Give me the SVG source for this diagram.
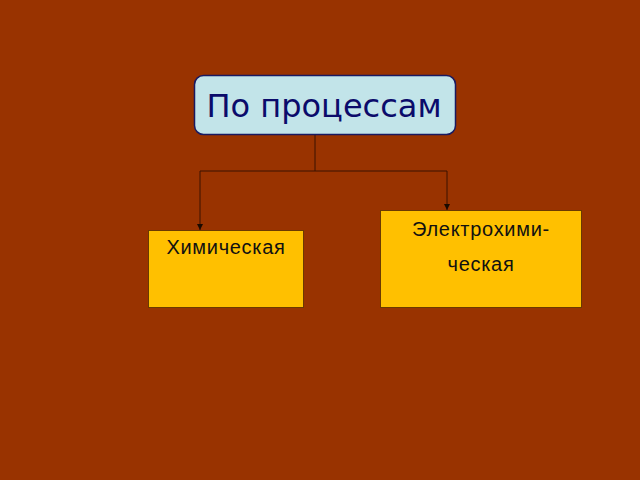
<svg xmlns="http://www.w3.org/2000/svg" width="640" height="480" viewBox="0 0 640 480">
<defs>
<style>
.box{fill:#FFC000;stroke:#6B3A00;stroke-width:1}
.lbl{font-family:"Liberation Sans",Arial,sans-serif;font-size:20px;letter-spacing:0.7px;fill:#111;text-anchor:middle}
.con{fill:none;stroke:#3a1200;stroke-width:1}
</style>
<marker id="ah" viewBox="0 0 6 6" refX="6" refY="3" markerWidth="6" markerHeight="6" orient="auto" markerUnits="userSpaceOnUse">
<path d="M0,0 L6,3 L0,6 Z" fill="#1a0a00"/>
</marker>
</defs>
<rect width="640" height="480" fill="#993300"/>
<g id="connectors">
<path class="con" d="M315,135 V171"/>
<path class="con" d="M315,171 H200 V230" marker-end="url(#ah)"/>
<path class="con" d="M315,171 H447 V210" marker-end="url(#ah)"/>
</g>
<g id="root">
<rect x="194.5" y="75.5" width="261" height="59" rx="9" fill="#C2E4E9" stroke="#1a1a60" stroke-width="1.5"/>
<text x="324" y="117" font-family="DejaVu Sans,Verdana,sans-serif" font-size="32" fill="#0B0B6B" text-anchor="middle">По процессам</text>
</g>
<g id="chem">
<rect class="box" x="148.5" y="230.5" width="155" height="77"/>
<text class="lbl" x="226" y="254">Химическая</text>
</g>
<g id="electrochem">
<rect class="box" x="380.5" y="210.5" width="201" height="97"/>
<text class="lbl" x="481" y="236">Электрохими-</text>
<text class="lbl" x="481" y="271">ческая</text>
</g>
</svg>
